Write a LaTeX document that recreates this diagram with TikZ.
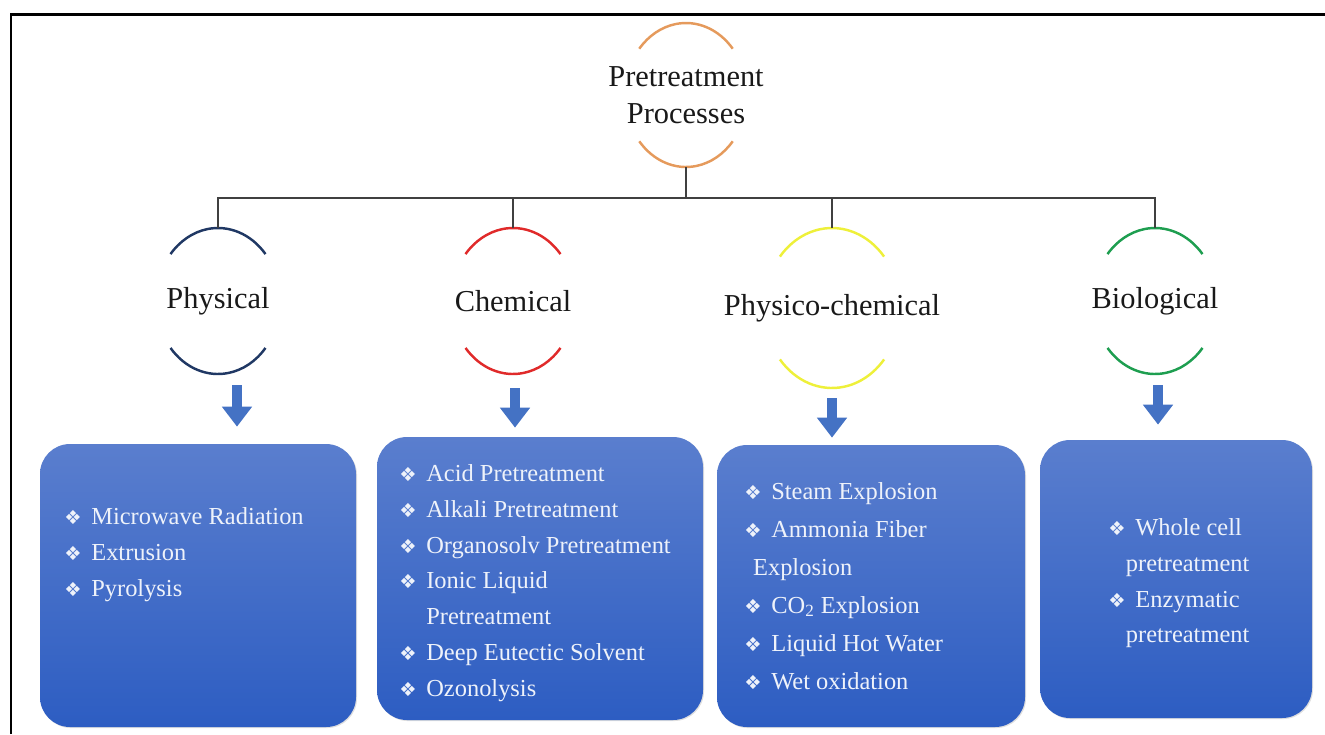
\documentclass[tikz,border=0pt]{standalone}
\usepackage{fontspec}
\setmainfont{Liberation Serif}
\newfontfamily\symfont{DejaVu Sans}
\usepackage{xcolor}
\usetikzlibrary{shapes.geometric, arrows.meta, positioning, calc, shadows}

\definecolor{ringorange}{HTML}{E59A5C}
\definecolor{ringnavy}{HTML}{203864}
\definecolor{ringred}{HTML}{E02A2A}
\definecolor{ringyellow}{HTML}{EEF03A}
\definecolor{ringgreen}{HTML}{1E9E50}
\definecolor{connGray}{HTML}{404040}
\definecolor{arrBlue}{HTML}{4472C4}
\definecolor{boxTop}{HTML}{5A7ECE}
\definecolor{boxBot}{HTML}{2D5DC2}
\definecolor{itemWhite}{HTML}{EEF2FA}

% bullet and continuation indent
\newcommand{\bul}{{\symfont\fontsize{11}{11}\selectfont ❖}\hspace{5.5pt}}
\newcommand{\cont}{\phantom{\bul}}
% split ring: upper and lower arc round a named node
\newcommand{\ringarcs}[4]{%
  \draw[ringline, #2] ([shift={(40:#3 and #4)}]#1.center)
    arc[start angle=40, end angle=140, x radius=#3, y radius=#4];
  \draw[ringline, #2] ([shift={(220:#3 and #4)}]#1.center)
    arc[start angle=220, end angle=320, x radius=#3, y radius=#4];}

\begin{document}
\begin{tikzpicture}[
    % --- node styles ---
    ring/.style={ellipse, draw=none, inner sep=0pt},
    cat/.style={inner sep=0pt, text=black!90, font=\fontsize{17.3}{21}\selectfont, align=center},
    boxbg/.style={rectangle, rounded corners=0.6cm, draw=none,
        top color=boxTop, bottom color=boxBot,
        drop shadow={shadow xshift=0.6pt, shadow yshift=-0.6pt, opacity=0.25}},
    items/.style={anchor=north west, align=left, inner sep=0pt, text=itemWhite,
        font=\fontsize{13.9}{20.4}\selectfont},
    % --- line / arrow styles ---
    ringline/.style={line width=1.4pt},
    conn/.style={draw=connGray, line width=0.9pt},
    downarr/.style={draw=arrBlue, line width=0.2cm,
        -{Triangle[width=0.58cm, length=0.40cm]}},
    frame/.style={line width=1.7pt, black}
]
\useasboundingbox (0,0) rectangle (26.5,-14.68);

%%% ================= FRAME =================
\draw[frame] (0.22,-14.68) -- (0.22,-0.28) -- (26.5,-0.28);

%%% ================= ROOT =================
\node (proc) [ring, minimum width=2.44cm, minimum height=2.88cm] at (13.72,-1.90) {};
\node (proclbl) [cat] at (proc.center) {Pretreatment\\Processes};
\ringarcs{proc}{ringorange}{1.22cm}{1.44cm}

%%% ================= CATEGORIES =================
\node (phys) [ring, minimum width=2.48cm, minimum height=2.92cm] at (4.36,-6.02) {};
\node (chem) [ring, minimum width=2.48cm, minimum height=2.92cm] at (10.26,-6.02) {};
\node (phch) [ring, minimum width=2.72cm, minimum height=3.20cm] at (16.64,-6.16) {};
\node (bio)  [ring, minimum width=2.48cm, minimum height=2.92cm] at (23.10,-6.02) {};

\node (physlbl) [cat] at (phys.center) {Physical};
\node (chemlbl) [cat] at (chem.center) {Chemical};
\node (phchlbl) [cat] at (phch.center) {Physico-chemical};
\node (biolbl)  [cat] at (bio.center)  {Biological};

\ringarcs{phys}{ringnavy}{1.24cm}{1.46cm}
\ringarcs{chem}{ringred}{1.24cm}{1.46cm}
\ringarcs{phch}{ringyellow}{1.36cm}{1.60cm}
\ringarcs{bio}{ringgreen}{1.24cm}{1.46cm}

%%% ================= BOXES =================
\node (b1) [boxbg, minimum width=6.32cm, minimum height=5.66cm] at (3.96,-11.71) {};
\node (b2) [boxbg, minimum width=6.52cm, minimum height=5.66cm] at (10.80,-11.57) {};
\node (b3) [boxbg, minimum width=6.16cm, minimum height=5.64cm] at (17.42,-11.72) {};
\node (b4) [boxbg, minimum width=5.44cm, minimum height=5.56cm] at (23.52,-11.58) {};

\node (l1) [items] at (1.28,-10.14)
    {\bul Microwave Radiation\\\bul Extrusion\\\bul Pyrolysis};
\node (l2) [items] at (7.98,-9.28)
    {\bul Acid Pretreatment\\\bul Alkali Pretreatment\\\bul Organosolv Pretreatment\\
     \bul Ionic Liquid\\\cont Pretreatment\\\bul Deep Eutectic Solvent\\\bul Ozonolysis};
\node (l3) [items, font=\fontsize{13.9}{21.6}\selectfont] at (14.88,-9.64)
    {\bul Steam Explosion\\\bul Ammonia Fiber\\\hspace{5pt}Explosion\\
     \bul CO\textsubscript{2} Explosion\\\bul Liquid Hot Water\\\bul Wet oxidation};
\node (l4) [items] at (22.16,-10.36)
    {\bul Whole cell\\\hspace{10pt}pretreatment\\\bul Enzymatic\\\hspace{10pt}pretreatment};

%%% ================= CONNECTORS =================
\coordinate (bus) at (13.72,-3.96);
\draw[conn] (proc.south) -- (bus);
\draw[conn] (phys.north) |- (bus) -| (bio.north);
\draw[conn] (chem.north) -- (chem.north |- bus);
\draw[conn] (phch.north) -- (phch.north |- bus);

%% down arrows to the boxes
\draw[downarr, shorten <=0.22cm, shorten >=0.34cm]
    ([xshift=0.38cm]phys.south) -- ([xshift=0.38cm]phys.south |- b1.north);
\draw[downarr, shorten <=0.28cm, shorten >=0.18cm]
    ([xshift=0.04cm]chem.south) -- ([xshift=0.04cm]chem.south |- b2.north);
\draw[downarr, shorten <=0.20cm, shorten >=0.14cm]
    (phch.south) -- (phch.south |- b3.north);
\draw[downarr, shorten <=0.22cm, shorten >=0.30cm]
    ([xshift=0.06cm]bio.south) -- ([xshift=0.06cm]bio.south |- b4.north);

\end{tikzpicture}
\end{document}
